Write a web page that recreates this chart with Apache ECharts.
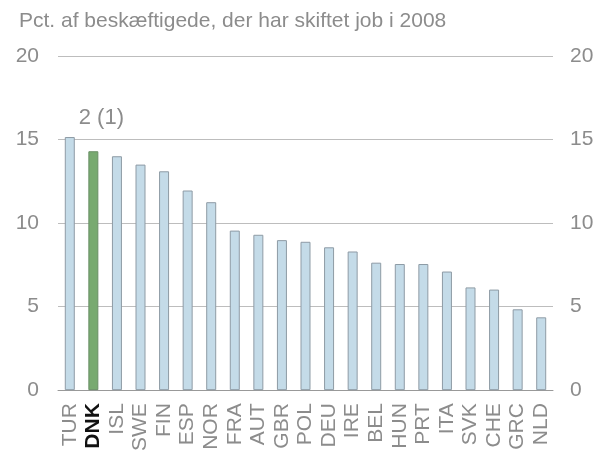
<!DOCTYPE html>
<html>
<head>
<meta charset="utf-8">
<script src="https://cdn.jsdelivr.net/npm/echarts@6/dist/echarts.min.js"></script>
<style>
  html, body { margin: 0; padding: 0; background: #fff; }
  #chart { width: 601px; height: 454px; }
</style>
</head>
<body>
<div id="chart"></div>
<script>
// lande og andel der har skiftet job (pct.)
var lande = ['TUR', 'DNK', 'ISL', 'SWE', 'FIN', 'ESP', 'NOR', 'FRA', 'AUT', 'GBR', 'POL',
  'DEU', 'IRE', 'BEL', 'HUN', 'PRT', 'ITA', 'SVK', 'CHE', 'GRC', 'NLD']
var andel = [15.15, 14.3, 14.0, 13.5, 13.1, 11.95, 11.25, 9.55, 9.3, 8.98, 8.88,
  8.55, 8.3, 7.63, 7.55, 7.55, 7.1, 6.15, 6.02, 4.84, 4.36]
var yTicks = [0, 5, 10, 15, 20]
var fremhaev = 'DNK'
var fremhaevTekst = '2 (1)'

var chart = echarts.init(document.getElementById('chart'))
var font = 'Liberation Sans, Arial, sans-serif'

var data = andel.map(function (v, i) {
  if (lande[i] !== fremhaev) return v
  return {
    value: v,
    itemStyle: { color: '#78aa70', borderColor: '#6a8f66' },
    label: {
      show: true,
      position: 'top',
      formatter: fremhaevTekst,
      offset: [8, -17],
      color: '#8c8c8c',
      fontSize: 22,
      fontFamily: font
    }
  }
})

var yAxisBase = {
  type: 'value',
  min: yTicks[0],
  max: yTicks[yTicks.length - 1],
  interval: 5,
  axisLine: { show: false },
  axisTick: { show: false }
}

var yLabel = {
  color: '#8c8c8c',
  fontSize: 21,
  fontFamily: font
}

var option = {
  animation: false,
  title: {
    text: 'Pct. af beskæftigede, der har skiftet job i 2008',
    left: 14,
    top: 6,
    textStyle: {
      color: '#8c8c8c',
      fontSize: 21,
      fontWeight: 'normal',
      fontFamily: font
    }
  },
  grid: {
    left: 58,
    right: 48,
    top: 56,
    bottom: 63
  },
  xAxis: {
    type: 'category',
    data: lande,
    axisLine: { lineStyle: { color: '#999' } },
    axisTick: { length: 6, lineStyle: { color: '#999' } },
    axisLabel: {
      rotate: 90,
      interval: 0,
      margin: 13,
      fontSize: 21,
      fontFamily: font,
      color: '#8c8c8c',
      formatter: function (v) {
        return v === fremhaev ? '{b|' + v + '}' : v
      },
      rich: {
        b: { color: '#111', fontWeight: 'bold', fontSize: 21, fontFamily: font }
      }
    }
  },
  yAxis: [
    Object.assign({}, yAxisBase, {
      position: 'left',
      axisLabel: Object.assign({ margin: 19 }, yLabel),
      splitLine: { lineStyle: { color: '#bdbdbd', width: 1 } }
    }),
    Object.assign({}, yAxisBase, {
      position: 'right',
      axisLabel: Object.assign({ margin: 17 }, yLabel),
      splitLine: { show: false }
    })
  ],
  series: [
    {
      type: 'bar',
      data: data,
      barWidth: 10,
      itemStyle: {
        color: '#c4dbe8',
        borderColor: '#8e9ba5',
        borderWidth: 1
      }
    }
  ]
}

chart.setOption(option)
</script>
</body>
</html>
